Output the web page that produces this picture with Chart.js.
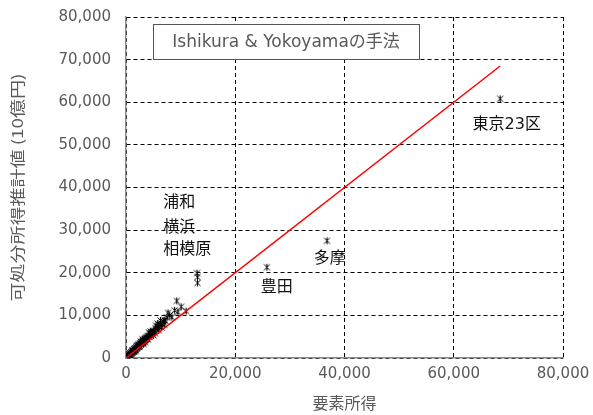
<!DOCTYPE html>
<html>
<head>
<meta charset="utf-8">
<script src="https://cdn.jsdelivr.net/npm/chart.js@4"></script>
<style>
  html, body { margin: 0; padding: 0; background: #fff; }
  #wrap { width: 593px; height: 415px; }
</style>
</head>
<body>
<div id="wrap"><canvas id="scatterChart"></canvas></div>
<script>
// 要素所得 (x) と 可処分所得推計値 (y), 単位: 10億円
const incomeX = [
    68500, 36800, 25800, 13000, 13100, 13100,
    9300, 7700, 9500, 11000, 8400, 10100, 7500, 8900, 8000, 6300, 5800,
    150, 200, 300, 350, 400, 450, 500, 550, 600, 650, 700, 750, 800, 850, 900, 950,
    1000, 1050, 1100, 1150, 1200, 1250, 1300, 1350, 1400, 1450, 1500, 1550, 1600, 1650,
    1700, 1750, 1800, 1850, 1900, 1950, 2000, 2050, 2100, 2200, 2250, 2300, 2400, 2450,
    2500, 2600, 2650, 2700, 2800, 2850, 2900, 3000, 3050, 3100, 3200, 3250, 3300, 3400,
    3450, 3500, 3600, 3650, 3700, 3800, 3850, 3900, 4000, 4100, 4200, 4300, 4400, 4500,
    4600, 4700, 4900, 5000, 5200, 5400, 5500, 5700, 5900, 6000, 6200, 6400, 6600, 6800,
    7000, 7200,
    1500, 2000, 2500, 3000, 3500, 4000, 4500, 5000, 5500, 6000, 3200, 2200, 1200, 800,
    1800, 2700, 4200, 5300, 6500, 7000
];
const incomeY = [
    60800, 27500, 21300, 19900, 19000, 17600,
    13400, 10600, 10800, 11000, 9600, 12000, 9500, 11200, 10000, 8800, 8100,
    180, 250, 350, 450, 520, 500, 600, 700, 780, 800, 850, 950, 1050, 1000, 1100, 1200,
    1300, 1250, 1350, 1400, 1500, 1550, 1700, 1600, 1650, 1800, 1900, 2000, 2100, 1950,
    2050, 2200, 2300, 2250, 2500, 2350, 2400, 2600, 2700, 2800, 2700, 2850, 3100, 2950,
    3000, 3400, 3250, 3300, 3600, 3400, 3500, 3900, 3650, 3700, 4100, 3950, 4000, 4300,
    4150, 4500, 4400, 4600, 4700, 4900, 4600, 4700, 5100, 5000, 5300, 5000, 5600, 5400,
    5700, 6000, 6100, 6400, 6300, 6800, 7000, 7100, 7500, 7300, 7800, 8100, 8000, 8600,
    8900, 8700,
    1500, 2900, 2600, 4400, 3700, 4300, 6200, 5300, 7600, 6500, 3300, 3200, 1800, 700,
    1700, 3900, 6000, 5800, 7200, 7800
];

// 推計値 = 要素所得 の直線
const fitX = [0, 68500];
const fitY = [0, 68500];

const axisTicks = [0, 10000, 20000, 30000, 40000, 50000, 60000, 70000, 80000];

const titleText = 'Ishikura & Yokoyamaの手法';
const yTitle = '可処分所得推計値 (10億円)';
const xTitle = '要素所得';
const pointNotes = [
    { text: '東京23区', x: 69700, y: 54700, align: 'center' },
    { text: '多摩', x: 37300, y: 23200, align: 'center' },
    { text: '豊田', x: 27600, y: 16400, align: 'center' },
    { text: '浦和', x: 6800, y: 36400, align: 'left' },
    { text: '横浜', x: 6800, y: 30500, align: 'left' },
    { text: '相模原', x: 6800, y: 25300, align: 'left' }
];

const FONT = '"DejaVu Sans", "Noto Sans CJK JP", sans-serif';
const CJK = '"Noto Sans CJK JP", sans-serif';
const GRAY = '#595959';

// アスタリスク型マーカー (×と縦線)
function makeStar() {
    const c = document.createElement('canvas');
    c.width = 9; c.height = 9;
    const g = c.getContext('2d');
    g.strokeStyle = '#000';
    g.lineWidth = 1;
    g.beginPath();
    g.moveTo(1.5, 1.5); g.lineTo(7.5, 7.5);
    g.moveTo(7.5, 1.5); g.lineTo(1.5, 7.5);
    g.moveTo(4.5, 1); g.lineTo(4.5, 8);
    g.stroke();
    return c;
}

const points = incomeX.map((x, i) => ({ x: x, y: incomeY[i] }));
const fitLine = fitX.map((x, i) => ({ x: x, y: fitY[i] }));

const labelsPlugin = {
    id: 'labelsPlugin',
    afterDraw(chart) {
        const ctx = chart.ctx;
        const xs = chart.scales.x, ys = chart.scales.y;
        const area = chart.chartArea;
        ctx.save();

        // 点の注記
        ctx.fillStyle = '#111';
        ctx.font = '16px ' + FONT;
        ctx.textBaseline = 'middle';
        pointNotes.forEach(n => {
            ctx.textAlign = n.align;
            ctx.fillText(n.text, xs.getPixelForValue(n.x), ys.getPixelForValue(n.y));
        });

        // タイトル枠
        ctx.font = '17px ' + FONT;
        const tw = ctx.measureText(titleText).width;
        const cx = xs.getPixelForValue(29300), cy = ys.getPixelForValue(74250);
        const bw = 266, bh = 35;
        ctx.fillStyle = '#fff';
        ctx.fillRect(cx - bw / 2, cy - bh / 2, bw, bh);
        ctx.strokeStyle = '#555';
        ctx.lineWidth = 1;
        ctx.strokeRect(Math.round(cx - bw / 2) + 0.5, Math.round(cy - bh / 2) + 0.5, bw, bh);
        ctx.fillStyle = GRAY;
        ctx.textAlign = 'center';
        ctx.save();
        ctx.translate(cx, cy + 1);
        ctx.scale(Math.min(1, 252 / tw), 1);
        ctx.fillText(titleText, 0, 0);
        ctx.restore();

        // 軸タイトル
        ctx.font = '16px ' + CJK;
        ctx.fillStyle = GRAY;
        ctx.fillText(xTitle, (area.left + area.right) / 2, 403);
        ctx.font = '15px ' + CJK;
        const yw = ctx.measureText(yTitle).width;
        ctx.translate(17, (area.top + area.bottom) / 2);
        ctx.rotate(-Math.PI / 2);
        ctx.scale(228 / yw, 1);
        ctx.fillText(yTitle, 0, 0);
        ctx.restore();
    }
};

const gridStyle = {
    color: '#000',
    lineWidth: 1,
    drawTicks: false
};

new Chart(document.getElementById('scatterChart').getContext('2d'), {
    type: 'scatter',
    data: {
        datasets: [
            {
                label: '推計値',
                data: points,
                pointStyle: makeStar(),
                pointRadius: 4,
                order: 2
            },
            {
                type: 'line',
                label: '45度線',
                data: fitLine,
                borderColor: '#ff0000',
                borderWidth: 1.5,
                pointRadius: 0,
                fill: false,
                order: 1
            }
        ]
    },
    options: {
        responsive: true,
        maintainAspectRatio: false,
        animation: false,
        layout: { padding: { top: 17, right: 30, left: 0, bottom: 0 } },
        plugins: {
            legend: { display: false },
            tooltip: { enabled: false }
        },
        scales: {
            x: {
                type: 'linear',
                min: 0, max: 80000,
                afterBuildTicks: s => { s.ticks = axisTicks.filter(v => v % 20000 === 0).map(v => ({ value: v })); },
                afterFit: s => { s.height = 57; s.paddingLeft = 0; s.paddingRight = 0; },
                grid: gridStyle,
                border: { display: true, color: '#8c8c8c', width: 1.5, dash: [4, 3] },
                ticks: {
                    color: GRAY,
                    padding: 7,
                    maxRotation: 0,
                    font: { family: FONT, size: 15 },
                    callback: v => v.toLocaleString('en-US')
                }
            },
            y: {
                type: 'linear',
                min: 0, max: 80000,
                afterBuildTicks: s => { s.ticks = axisTicks.map(v => ({ value: v })); },
                afterFit: s => { s.width = 126; s.paddingTop = 0; s.paddingBottom = 0; },
                grid: gridStyle,
                border: { display: true, color: '#8c8c8c', width: 1.5, dash: [4, 3] },
                ticks: {
                    color: GRAY,
                    padding: 15,
                    font: { family: FONT, size: 15 },
                    callback: v => v.toLocaleString('en-US')
                }
            }
        }
    },
    plugins: [labelsPlugin]
});
</script>
</body>
</html>
